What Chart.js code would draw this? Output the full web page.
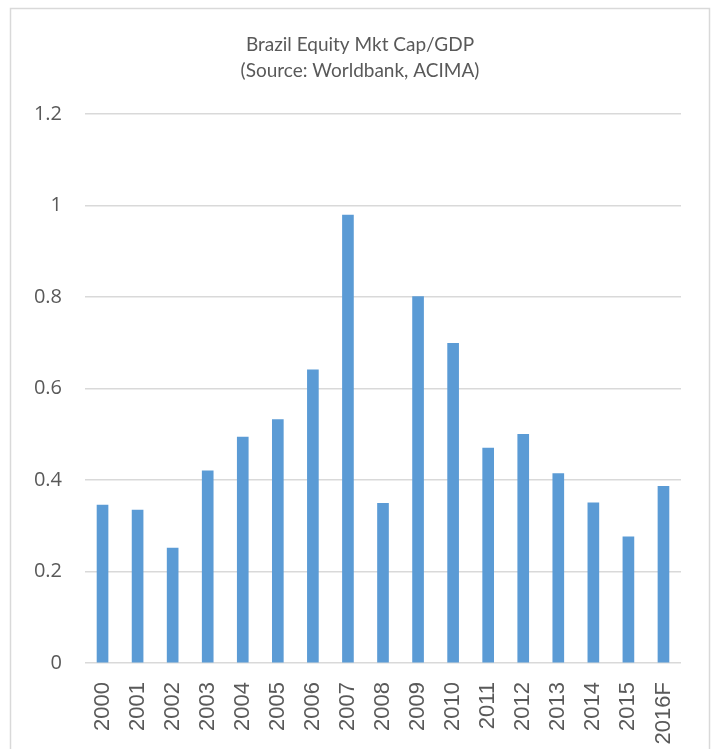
<!DOCTYPE html>
<html>
<head>
<meta charset="utf-8">
<script src="https://cdn.jsdelivr.net/npm/chart.js@4/dist/chart.umd.min.js"></script>
<style>
  html, body { margin: 0; padding: 0; background: #ffffff; }
  #wrap { position: relative; width: 712px; height: 749px; }
</style>
</head>
<body>
<div id="wrap"><canvas id="chart" width="712" height="749"></canvas></div>
<script>
// Brazil equity market capitalisation as a share of GDP
const years = ['2000', '2001', '2002', '2003', '2004', '2005', '2006', '2007', '2008',
               '2009', '2010', '2011', '2012', '2013', '2014', '2015', '2016F'];
const mktCapToGdp = [0.345, 0.334, 0.251, 0.420, 0.494, 0.532, 0.641, 0.979, 0.349,
                     0.801, 0.699, 0.470, 0.500, 0.414, 0.350, 0.276, 0.386];
const yTicks = [0, 0.2, 0.4, 0.6, 0.8, 1, 1.2];
const titleLines = ['Brazil Equity Mkt Cap/GDP', '(Source: Worldbank, ACIMA)'];

const textColor = '#595959';
const gridColor = '#d9d9d9';
const barColor = '#5b9bd5';

// Outer frame and two-line heading
const framePlugin = {
  id: 'frame',
  beforeDraw(chart) {
    const c = chart.ctx;
    c.save();
    c.fillStyle = '#ffffff';
    c.fillRect(0, 0, chart.width, chart.height);
    c.strokeStyle = '#d9d9d9';
    c.lineWidth = 1.5;
    c.strokeRect(10.5, 8.5, 699, 760);
    c.restore();
  },
  afterDraw(chart) {
    const c = chart.ctx;
    c.save();
    c.fillStyle = textColor;
    c.font = '19px Lato';
    c.textAlign = 'center';
    c.textBaseline = 'alphabetic';
    c.fillText(titleLines[0], 360, 51);
    c.fillText(titleLines[1], 360, 77);
    c.restore();
  }
};

new Chart(document.getElementById('chart'), {
  type: 'bar',
  data: {
    labels: years,
    datasets: [{
      data: mktCapToGdp,
      backgroundColor: barColor,
      barThickness: 11
    }]
  },
  options: {
    responsive: false,
    animation: false,
    events: [],
    layout: { padding: { top: 114, right: 31, bottom: 0, left: 0 } },
    plugins: {
      legend: { display: false },
      title: { display: false },
      tooltip: { enabled: false }
    },
    scales: {
      x: {
        grid: { display: false },
        border: { display: false },
        ticks: {
          color: textColor,
          font: { family: 'Liberation Sans', size: 22 },
          minRotation: 90,
          maxRotation: 90,
          autoSkip: false,
          padding: 11
        },
        afterFit(scale) { scale.height = 86; }
      },
      y: {
        min: 0,
        max: 1.2,
        afterBuildTicks(scale) {
          scale.ticks = yTicks.map(v => ({ value: v }));
        },
        grid: {
          color: gridColor,
          lineWidth: 1.5,
          drawTicks: false
        },
        border: { display: false },
        ticks: {
          color: textColor,
          font: { family: 'Open Sans', size: 20 },
          padding: 23,
          callback: v => String(v)
        },
        afterFit(scale) { scale.width = 85; }
      }
    }
  },
  plugins: [framePlugin]
});
</script>
</body>
</html>
